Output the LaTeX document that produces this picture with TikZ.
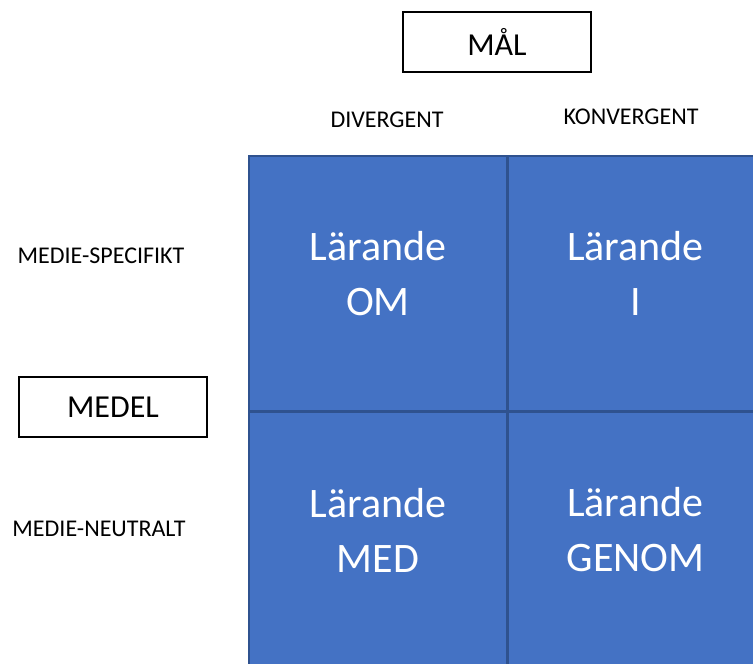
\documentclass[tikz,border=0pt]{standalone}
\usepackage{fontspec}
\setmainfont{Carlito}
\usepackage{xcolor}
\usetikzlibrary{positioning}
\definecolor{cellblue}{HTML}{4472C4}
\definecolor{cellline}{HTML}{2F528F}
\tikzstyle{titlebox} = [rectangle, minimum width=188pt, minimum height=60pt, text centered, draw=black, line width=1.5pt, font=\fontsize{32}{38}\selectfont]
\tikzstyle{headtext} = [font=\fontsize{24}{29}\selectfont, text=black]
\tikzstyle{cell} = [rectangle, minimum width=258pt, minimum height=255pt, draw=cellline, line width=1.5pt, fill=cellblue]
\tikzstyle{celltext} = [align=center, text=white, font=\fontsize{42}{55}\selectfont]

\begin{document}
\begin{tikzpicture}[x=1pt, y=-1pt]
	\useasboundingbox (0,0) rectangle (753,664);
	\clip (0,0) rectangle (753,664);
	\node[titlebox](maal) at (497,42){MÅL};
	\node[titlebox](medel) at (113,407){MEDEL};
	\node[headtext](divergent) at (387,120){DIVERGENT};
	\node[headtext](konvergent) at (631,117){KONVERGENT};
	\node[headtext](specifikt) at (101,256){MEDIE-SPECIFIKT};
	\node[headtext](neutralt) at (99,529){MEDIE-NEUTRALT};
	
	\node[cell](cell_om) at (378,283.5){};
	\node[cell, right=0pt of cell_om](cell_i){};
	\node[cell, below=0pt of cell_om](cell_med){};
	\node[cell, right=0pt of cell_med](cell_genom){};
	
	\node[celltext] at ([yshift=10pt]cell_om.center){Lärande\\OM};
	\node[celltext] at ([xshift=-2pt, yshift=10pt]cell_i.center){Lärande\\I};
	\node[celltext] at ([yshift=10pt]cell_med.center){Lärande\\MED};
	\node[celltext] at ([xshift=-2pt, yshift=10pt]cell_genom.center){Lärande\\GENOM};
\end{tikzpicture}
\end{document}
